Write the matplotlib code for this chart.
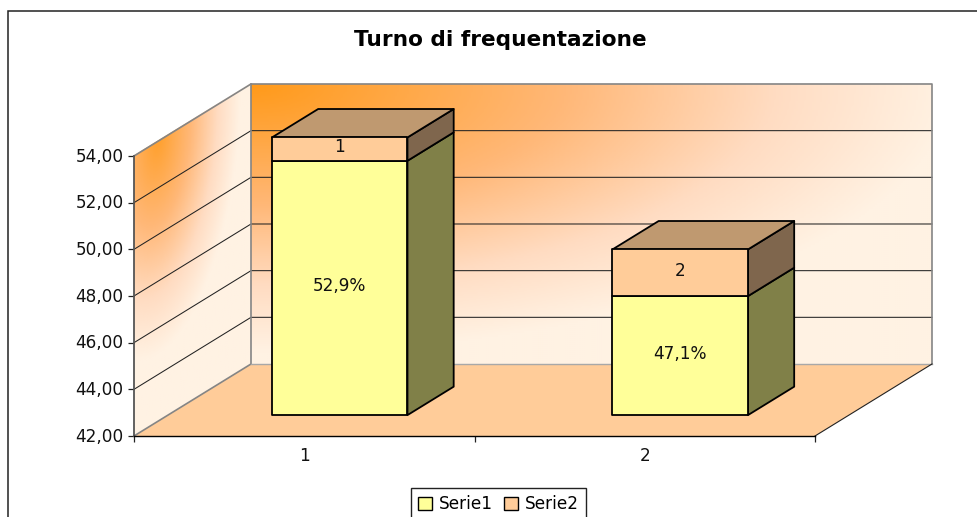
#!/usr/bin/env python3

import numpy as np
import matplotlib
matplotlib.use('Agg')
import matplotlib.pyplot as plt
from matplotlib.colors import LinearSegmentedColormap
from matplotlib.patches import Patch, Polygon, Rectangle
from matplotlib.transforms import Affine2D

# DejaVu is about as wide as the stretched Arial in the picture
plt.rcParams['font.family'] = ['DejaVu Sans']

# Data
categories = [1, 2]
serie1 = [52.9, 47.1]
serie2 = [1, 2]
serie1_labels = ['52,9%', '47,1%']
serie2_labels = ['1', '2']
y_ticks = [42, 44, 46, 48, 50, 52, 54]

# Colors
YELLOW = '#FFFF99'
YELLOW_SIDE = '#808048'
PEACH = '#FFCC99'
PEACH_SIDE = '#7F664D'
PEACH_TOP = '#BF9970'
WALL_EDGE = '#858585'

W, H = 977, 517
Y_MIN, Y_MAX = 42, 54

# Oblique depth of the box, in data units (1 depth = front plane to back wall)
DEPTH_X = 0.3436
DEPTH_Y = 3.086
BAR_D0 = 0.29
BAR_D1 = 0.685
BAR_WIDTH = 0.398
BAR_SHIFT = 0.0045

FONT = 12.2
TEXT_LIFT = 0.07  # value units, DejaVu sits a bit low when centred


def proj(x, v, d):
    return (x + d * DEPTH_X, v + d * DEPTH_Y)


fig = plt.figure(figsize=(W / 100, H / 100), dpi=100, facecolor='white')
ax = fig.add_axes([134 / W, (H - 436) / H, 681 / W, 280 / H])
ax.patch.set_alpha(0)

# Outer chart frame, right and bottom fall off the picture
fig.add_artist(Rectangle((8 / W, -0.1), 1.1, 0.1 + (H - 11) / H,
                         transform=fig.transFigure, fill=False,
                         edgecolor='#222222', linewidth=1.1))

cmap = LinearSegmentedColormap.from_list('wall', [
    (0.0, '#FF9A1A'), (0.45, '#FFB878'), (0.75, '#FFDCC2'), (1.0, '#FFF2E3')])

# Back wall gradient
u, v = np.meshgrid(np.linspace(0, 1, 340), np.linspace(0, 1, 140))
r = np.sqrt((u * 680 / 700) ** 2 + ((1 - v) * 280 / 270) ** 2)
ax.imshow(np.clip(r, 0, 1), cmap=cmap, vmin=0, vmax=1, origin='lower', aspect='auto',
          extent=(0.5 + DEPTH_X, 2.5 + DEPTH_X, Y_MIN + DEPTH_Y, Y_MAX + DEPTH_Y),
          clip_on=False, zorder=1)

# Side wall gradient, sheared onto the wall
u, v = np.meshgrid(np.linspace(0, 1, 80), np.linspace(0, 1, 140))
r = np.sqrt(((u - 0.2) / 0.78) ** 2 + ((1.02 - v) / 0.85) ** 2) + 0.08
shear = Affine2D.from_values(DEPTH_X, DEPTH_Y, 0, Y_MAX - Y_MIN, 0.5, Y_MIN)
ax.imshow(np.clip(r, 0, 1), cmap=cmap, vmin=0, vmax=1, origin='lower', aspect='auto',
          extent=(0, 1, 0, 1), transform=shear + ax.transData,
          clip_on=False, zorder=1)

# Floor
ax.add_patch(Polygon([proj(0.5, Y_MIN, 0), proj(2.5, Y_MIN, 0),
                      proj(2.5, Y_MIN, 1), proj(0.5, Y_MIN, 1)],
                     facecolor=PEACH, edgecolor='none', zorder=1.5, clip_on=False))

# Grid lines on side wall and back wall
for tick in y_ticks[1:-1]:
    xs, ys = zip(proj(0.5, tick, 0), proj(0.5, tick, 1), proj(2.5, tick, 1))
    ax.plot(xs, ys, color='#222222', linewidth=0.75, zorder=2, clip_on=False)

# Wall outlines
xs, ys = zip(proj(0.5, Y_MAX, 0), proj(0.5, Y_MAX, 1), proj(2.5, Y_MAX, 1),
             proj(2.5, Y_MIN, 1))
ax.plot(xs, ys, color=WALL_EDGE, linewidth=1.2, zorder=2, clip_on=False)
xs, ys = zip(proj(0.5, Y_MIN, 0), proj(0.5, Y_MIN, 1), proj(0.5, Y_MAX, 1))
ax.plot(xs, ys, color=WALL_EDGE, linewidth=1.2, zorder=2, clip_on=False)
xs, ys = zip(proj(0.5, Y_MIN, 1), proj(2.5, Y_MIN, 1))
ax.plot(xs, ys, color='#A8A8A8', linewidth=1.0, zorder=2, clip_on=False)
xs, ys = zip(proj(2.5, Y_MIN, 0), proj(2.5, Y_MIN, 1))
ax.plot(xs, ys, color='#222222', linewidth=0.8, zorder=2, clip_on=False)

# Bars
edge = dict(edgecolor='black', linewidth=1.3, joinstyle='round', clip_on=False, zorder=3)
for cat, s1, s2, lab1, lab2 in zip(categories, serie1, serie2, serie1_labels, serie2_labels):
    x0 = cat + BAR_SHIFT - BAR_WIDTH / 2
    x1 = cat + BAR_SHIFT + BAR_WIDTH / 2
    top1 = s1
    top2 = s1 + s2
    ax.add_patch(Polygon([proj(x1, Y_MIN, BAR_D0), proj(x1, top1, BAR_D0),
                          proj(x1, top1, BAR_D1), proj(x1, Y_MIN, BAR_D1)],
                         facecolor=YELLOW_SIDE, **edge))
    ax.add_patch(Polygon([proj(x1, top1, BAR_D0), proj(x1, top2, BAR_D0),
                          proj(x1, top2, BAR_D1), proj(x1, top1, BAR_D1)],
                         facecolor=PEACH_SIDE, **edge))
    ax.add_patch(Polygon([proj(x0, top2, BAR_D0), proj(x1, top2, BAR_D0),
                          proj(x1, top2, BAR_D1), proj(x0, top2, BAR_D1)],
                         facecolor=PEACH_TOP, **edge))
    ax.add_patch(Polygon([proj(x0, Y_MIN, BAR_D0), proj(x1, Y_MIN, BAR_D0),
                          proj(x1, top1, BAR_D0), proj(x0, top1, BAR_D0)],
                         facecolor=YELLOW, **edge))
    ax.add_patch(Polygon([proj(x0, top1, BAR_D0), proj(x1, top1, BAR_D0),
                          proj(x1, top2, BAR_D0), proj(x0, top2, BAR_D0)],
                         facecolor=PEACH, **edge))
    lx, ly = proj(cat + BAR_SHIFT, (Y_MIN + top1) / 2 + TEXT_LIFT, BAR_D0)
    ax.text(lx, ly, lab1, ha='center', va='center', fontsize=FONT, color='#111111', zorder=4)
    lx, ly = proj(cat + BAR_SHIFT, (top1 + top2) / 2 + TEXT_LIFT, BAR_D0)
    ax.text(lx, ly, lab2, ha='center', va='center', fontsize=FONT, color='#111111', zorder=4)

# Axes
ax.set_xlim(0.5, 2.5)
ax.set_ylim(Y_MIN, Y_MAX)
for side in ['top', 'right']:
    ax.spines[side].set_visible(False)
ax.spines['left'].set_color('#555555')
ax.spines['left'].set_linewidth(1.3)
ax.spines['bottom'].set_color('black')
ax.spines['bottom'].set_linewidth(1.0)
for spine in ax.spines.values():
    spine.set_zorder(2.5)

ax.set_yticks(y_ticks)
ax.set_yticklabels(['{:.2f}'.format(t).replace('.', ',') for t in y_ticks], fontsize=FONT,
                   color='#111111')
ax.set_xticks([0.5, 1.5, 2.5])
ax.set_xticklabels([])
ax.set_xticks(categories, minor=True)
ax.set_xticklabels([str(c) for c in categories], minor=True, fontsize=FONT, color='#111111')
ax.tick_params(axis='y', length=4.5, width=0.9, pad=3, color='#222222')
ax.tick_params(axis='x', which='major', length=4, width=0.9, color='#222222')
ax.tick_params(axis='x', which='minor', length=0, pad=8)
for lab in ax.get_yticklabels():
    lab.set_transform(lab.get_transform() + Affine2D().translate(0, 1.5))

fig.text(500.5 / W, (H - 40) / H, 'Turno di frequentazione', ha='center', va='center',
         fontsize=15.6, fontweight='bold', color='black')

handles = [Patch(facecolor=YELLOW, edgecolor='black', linewidth=1.0, label='Serie1'),
           Patch(facecolor=PEACH, edgecolor='black', linewidth=1.0, label='Serie2')]
fig.legend(handles=handles, loc='upper center', bbox_to_anchor=(498.5 / W, (H - 488) / H),
           ncol=2, frameon=True, fancybox=False, edgecolor='#222222', framealpha=1,
           fontsize=FONT, handlelength=0.8, handleheight=0.8, handletextpad=0.4,
           columnspacing=0.7, borderpad=0.42, borderaxespad=0)

fig.savefig('out.png', dpi=100)
